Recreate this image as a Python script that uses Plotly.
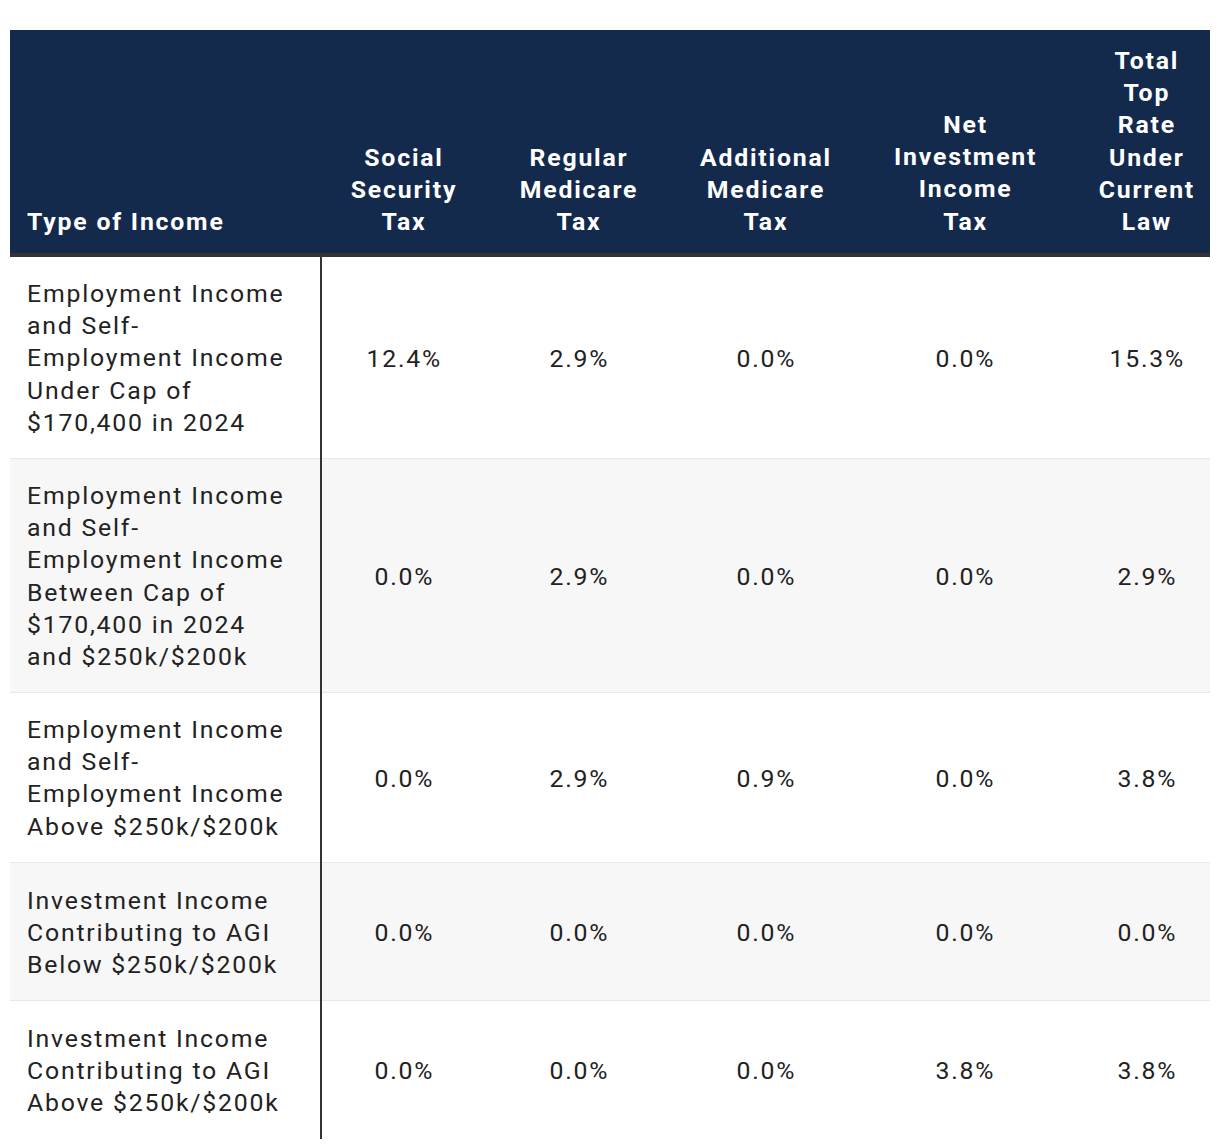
import plotly.graph_objects as go

# ---------------- data ----------------
income_types = [
    "Employment Income<br>and Self-<br>Employment Income<br>Under Cap of<br>$170,400 in 2024",
    "Employment Income<br>and Self-<br>Employment Income<br>Between Cap of<br>$170,400 in 2024<br>and $250k/$200k",
    "Employment Income<br>and Self-<br>Employment Income<br>Above $250k/$200k",
    "Investment Income<br>Contributing to AGI<br>Below $250k/$200k",
    "Investment Income<br>Contributing to AGI<br>Above $250k/$200k",
]
first_header = "Type of Income"
tax_headers = [
    "Social<br>Security<br>Tax",
    "Regular<br>Medicare<br>Tax",
    "Additional<br>Medicare<br>Tax",
    "Net<br>Investment<br>Income<br>Tax",
    "Total<br>Top<br>Rate<br>Under<br>Current<br>Law",
]
social_security_tax = [12.4, 0.0, 0.0, 0.0, 0.0]
regular_medicare_tax = [2.9, 2.9, 2.9, 0.0, 0.0]
additional_medicare_tax = [0.0, 0.0, 0.9, 0.0, 0.0]
net_investment_income_tax = [0.0, 0.0, 0.0, 0.0, 3.8]
total_top_rate = [15.3, 2.9, 3.8, 0.0, 3.8]

series = [social_security_tax, regular_medicare_tax, additional_medicare_tax,
          net_investment_income_tax, total_top_rate]

# ---------------- layout constants (pixel space) ----------------
W, H = 1220, 1148
OFF = 8  # browser body margin
LEFT, RIGHT = 10, 1210
HEAD_TOP, HEAD_BOT = 30, 253
RULE_W = 4
col_centers = [404, 579, 766, 965, 1147]
first_col_x = 25
first_col_right = 321
LINE_H = 32
PAD = 21
FS = 24.8

NAVY = "#132a4d"
FONT = "Roboto"

fig = go.Figure()
fig.add_trace(go.Scatter(x=[OFF, W], y=[OFF, H], mode="markers",
                         marker=dict(opacity=0), hoverinfo="skip", showlegend=False))
shapes = []
annotations = []

# header background
shapes.append(dict(type="rect", xref="x", yref="y", x0=LEFT, x1=RIGHT, y0=HEAD_TOP, y1=HEAD_BOT,
                   fillcolor=NAVY, line=dict(width=0), layer="below"))
shapes.append(dict(type="rect", xref="x", yref="y", x0=LEFT, x1=RIGHT, y0=HEAD_BOT, y1=HEAD_BOT + RULE_W,
                   fillcolor="#333333", line=dict(width=0), layer="below"))

# header texts
annotations.append(dict(x=first_col_x, y=HEAD_BOT - 15, xref="x", yref="y", text="<b>" + first_header + "</b>",
                        showarrow=False, xanchor="left", yanchor="bottom", align="left",
                        font=dict(family=FONT, size=FS, color="white")))
for cx, h in zip(col_centers, tax_headers):
    annotations.append(dict(x=cx, y=HEAD_BOT - 15, xref="x", yref="y", text="<b>" + h + "</b>",
                            showarrow=False, xanchor="center", yanchor="bottom", align="center",
                            font=dict(family=FONT, size=FS, color="white")))

# body rows
y = HEAD_BOT + RULE_W
for i, label in enumerate(income_types):
    n_lines = label.count("<br>") + 1
    h = n_lines * LINE_H + 2 * PAD
    y0, y1 = y, y + h
    fill = "#ffffff" if i % 2 == 0 else "#f7f7f7"
    shapes.append(dict(type="rect", xref="x", yref="y", x0=LEFT, x1=RIGHT, y0=y0, y1=y1,
                       fillcolor=fill, line=dict(width=0), layer="below"))
    if i < len(income_types) - 1:
        shapes.append(dict(type="rect", xref="x", yref="y", x0=LEFT, x1=RIGHT, y0=y1 - 1, y1=y1 + 1,
                           fillcolor="#e8e8e8", line=dict(width=0), layer="below"))
    ym = (y0 + y1) / 2
    annotations.append(dict(x=first_col_x, y=ym, xref="x", yref="y", text=label,
                            showarrow=False, xanchor="left", yanchor="middle", align="left",
                            font=dict(family=FONT, size=FS, color="#222222")))
    for cx, s in zip(col_centers, series):
        annotations.append(dict(x=cx, y=ym, xref="x", yref="y", text=f"{s[i]:.1f}%",
                                showarrow=False, xanchor="center", yanchor="middle", align="center",
                                font=dict(family=FONT, size=FS, color="#222222")))
    y = y1

# vertical rule after first column
shapes.append(dict(type="line", xref="x", yref="y", x0=first_col_right, x1=first_col_right,
                   y0=HEAD_BOT + RULE_W, y1=y, line=dict(color="#333333", width=2), layer="above"))

fig.update_layout(
    width=W - OFF, height=H - OFF,
    margin=dict(l=0, r=0, t=0, b=0),
    paper_bgcolor="white", plot_bgcolor="white",
    xaxis=dict(range=[OFF, W], visible=False, fixedrange=True),
    yaxis=dict(range=[H, OFF], visible=False, fixedrange=True),
    shapes=shapes, annotations=annotations, showlegend=False,
)

# slightly wider letter spacing, as in the reference typography
post = ("var s=document.createElement('style');"
        "s.textContent='.annotation-text{letter-spacing:1.8px}';"
        "document.head.appendChild(s);")

fig.write_html("out.html", config={"displayModeBar": False}, post_script=post)
